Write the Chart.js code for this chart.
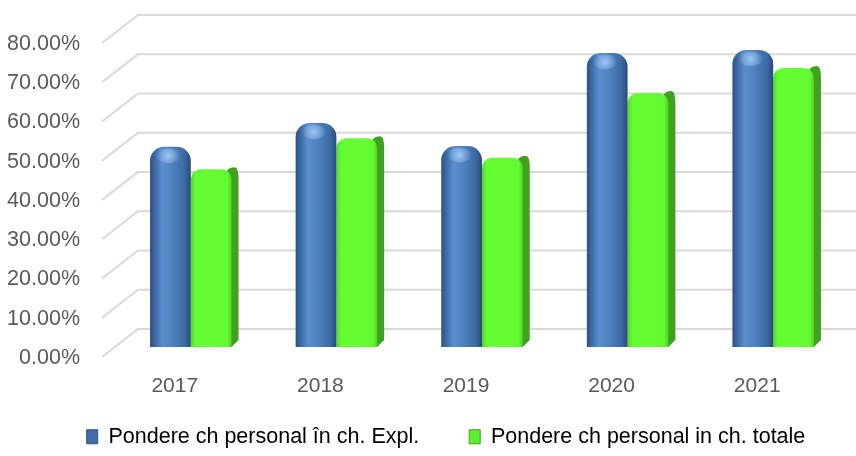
<!DOCTYPE html>
<html>
<head>
<meta charset="utf-8">
<script src="https://cdn.jsdelivr.net/npm/chart.js@4.4.1/dist/chart.umd.min.js"></script>
<style>
  html, body { margin: 0; padding: 0; background: #fff; }
</style>
</head>
<body>
<canvas id="chart" width="856" height="456"></canvas>
<script>
// values
const years = ['2017', '2018', '2019', '2020', '2021'];
const pondereExpl = [0.51, 0.571, 0.512, 0.749, 0.757];
const pondereTotale = [0.453, 0.532, 0.482, 0.647, 0.711];
const seriesNames = ['Pondere ch personal în ch. Expl.', 'Pondere ch personal in ch. totale'];

// 3d depth shifts (px) between the bar plane and the front / back walls
const front = {dx: -16, dy: 10};
const back = {dx: 20, dy: -18};

const hGradient = (stops, fallback) => ctx => {
  const el = ctx.element;
  if (!el || !el.width) return fallback;
  const g = ctx.chart.ctx.createLinearGradient(el.x - el.width / 2, 0, el.x + el.width / 2, 0);
  stops.forEach(([p, c]) => g.addColorStop(p, c));
  return g;
};

const blueFill = hGradient([[0, '#2b5384'], [0.3, '#5a8ed0'], [0.55, '#4f81bd'], [0.85, '#3b6aa3'], [1, '#284b78']], '#4f81bd');
const greenFill = hGradient([[0, '#52d828'], [0.12, '#66ff33'], [0.9, '#63fa31'], [1, '#4fcf27']], '#66ff33');

const noPadding = s => {
  s.paddingTop = 0; s.paddingBottom = 0; s.paddingLeft = 0; s.paddingRight = 0;
};

const gridPlugin = {
  id: 'grid3d',
  afterLayout(chart) {
    // legend sits a bit right of centre in the original
    chart.legend.left += 23;
    chart.legend.right += 23;
  },
  beforeDatasetsDraw(chart) {
    const {ctx, chartArea} = chart;
    const y = chart.scales.y;
    ctx.save();
    ctx.strokeStyle = '#d9d9d9';
    ctx.lineWidth = 2;
    y.ticks.forEach(t => {
      const py = y.getPixelForValue(t.value);
      ctx.beginPath();
      ctx.moveTo(chartArea.left + front.dx, py + front.dy);
      ctx.lineTo(chartArea.left + back.dx, py + back.dy);
      ctx.lineTo(chart.width, py + back.dy);
      ctx.stroke();
    });
    // side faces of the green boxes, behind the front faces
    ctx.fillStyle = '#40a21f';
    chart.getDatasetMeta(1).data.forEach(el => {
      const {x, y: top, base, width} = el.getProps(['x', 'y', 'base', 'width'], true);
      const x0 = x + width / 2 - 6, x1 = x + width / 2 + 7, t = top - 2, r = 9;
      ctx.beginPath();
      ctx.moveTo(x0, base - 2);
      ctx.lineTo(x0, t + r);
      ctx.quadraticCurveTo(x0, t, x0 + r, t);
      ctx.quadraticCurveTo(x1, t, x1, t + r + 3);
      ctx.lineTo(x1, base - 7);
      ctx.lineTo(x0 + 6, base);
      ctx.closePath();
      ctx.fill();
    });
    ctx.restore();
  },
  afterDatasetsDraw(chart) {
    const {ctx} = chart;
    ctx.save();
    chart.getDatasetMeta(0).data.forEach(el => {
      const {x, y, width} = el.getProps(['x', 'y', 'width'], true);
      const cx = x - width * 0.05, cy = y + 9;
      const g = ctx.createRadialGradient(cx, cy, 0, cx, cy, width * 0.3);
      g.addColorStop(0, 'rgba(175,215,255,0.8)');
      g.addColorStop(1, 'rgba(175,215,255,0)');
      ctx.fillStyle = g;
      ctx.beginPath();
      ctx.ellipse(cx, cy, width * 0.3, width * 0.18, 0, 0, Math.PI * 2);
      ctx.fill();
    });
    ctx.restore();
  }
};

Chart.defaults.font.family = '"Liberation Sans", Arial, sans-serif';
Chart.defaults.color = '#595959';

const chart = new Chart(document.getElementById('chart'), {
  type: 'bar',
  data: {
    labels: years,
    datasets: [
      {
        label: seriesNames[0],
        data: pondereExpl,
        backgroundColor: blueFill,
        borderRadius: {topLeft: 14, topRight: 14, bottomLeft: 0, bottomRight: 0},
        borderSkipped: false
      },
      {
        label: seriesNames[1],
        data: pondereTotale,
        backgroundColor: greenFill,
        borderRadius: {topLeft: 10, topRight: 10, bottomLeft: 0, bottomRight: 0},
        borderSkipped: false
      }
    ]
  },
  options: {
    responsive: false,
    animation: false,
    events: [],
    categoryPercentage: 0.56,
    barPercentage: 1,
    layout: {padding: {top: 33, right: 10, left: 0, bottom: -1.5}},
    scales: {
      x: {
        grid: {display: false},
        border: {display: false},
        // mirrored so the labels are not clipped to the thin axis box
        ticks: {font: {size: 21}, padding: -52, mirror: true, labelOffset: front.dx},
        afterFit: s => { s.height = 29; noPadding(s); }
      },
      y: {
        min: 0,
        max: 0.8,
        grid: {display: false},
        border: {display: false},
        ticks: {
          stepSize: 0.1,
          font: {size: 21.5},
          padding: 30,
          labelOffset: front.dy + 1,
          callback: v => (v * 100).toFixed(2) + '%'
        },
        afterFit: s => { s.width = 118; noPadding(s); }
      }
    },
    plugins: {
      tooltip: {enabled: false},
      legend: {
        position: 'bottom',
        labels: {
          font: {size: 21.5},
          boxWidth: 11,
          boxHeight: 14,
          padding: 50,
          generateLabels: () => [
            {text: seriesNames[0], fillStyle: '#3f6ea8', strokeStyle: '#2b5384', lineWidth: 1, datasetIndex: 0, hidden: false},
            {text: seriesNames[1], fillStyle: '#5ef02f', strokeStyle: '#3f9f1f', lineWidth: 1, datasetIndex: 1, hidden: false}
          ]
        }
      }
    }
  },
  plugins: [gridPlugin]
});
// second pass so the gradients know where each bar sits
chart.update();
</script>
</body>
</html>
